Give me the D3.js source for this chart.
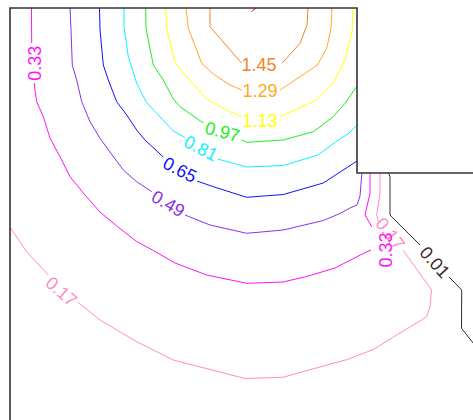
<!DOCTYPE html>
<html lang="en">
<head>
<meta charset="UTF-8">
<title>L-shaped domain contours</title>
<script src="https://d3js.org/d3.v7.min.js"></script>
<style>
  body { margin: 0; background: #fff; }
  svg { display: block; }
  .lbl { font: 18px "Liberation Sans", Arial, sans-serif; }
</style>
</head>
<body>
<script>
// contour levels and their colours
const levels = [0.01, 0.17, 0.33, 0.49, 0.65, 0.81, 0.97, 1.13, 1.29, 1.45, 1.61];
const colors = ["#3a2828", "#ff8cc8", "#ff10f8", "#8a30f0", "#1010ff", "#10f0ff",
                "#20ee20", "#ffff00", "#ffaa20", "#f5841f", "#ff1010"];

// domain outline (x to the right, y downward, same units as the contours)
const boundary = [[0, 4.12], [0, 0], [3.47, 0], [3.47, 1.65], [4.63, 1.65]];

// contour polylines, each split into pieces where a label sits
const c001 = [
  [[3.785, 1.65], [3.80, 1.687], [3.80, 2.07], [4.10, 2.37]],
  [[4.39, 2.69], [4.517, 2.82], [4.515, 3.203], [4.635, 3.355]]
];
const c017 = [
  [[0.005, 2.20], [0.167, 2.437], [0.383, 2.67]],
  [[0.683, 2.945], [0.90, 3.12], [1.267, 3.337], [1.633, 3.52], [2.00, 3.615], [2.35, 3.705],
   [2.733, 3.692], [3.133, 3.58], [3.367, 3.517], [3.633, 3.415], [3.867, 3.27], [3.967, 3.21],
   [4.167, 3.087], [4.20, 2.987], [4.215, 2.82], [3.933, 2.425]],
  [[3.683, 2.137], [3.667, 2.07], [3.70, 1.853], [3.70, 1.67], [3.71, 1.65]]
];
const c033 = [
  [[0.215, 0], [0.217, 0.35]],
  [[0.243, 0.75], [0.25, 0.82], [0.267, 0.937], [0.333, 1.087], [0.40, 1.30], [0.517, 1.52],
   [0.60, 1.687], [0.75, 1.87], [0.90, 2.04], [1.067, 2.18], [1.267, 2.335], [1.433, 2.425],
   [1.65, 2.55], [1.967, 2.67], [2.367, 2.753], [2.73, 2.74], [2.967, 2.685], [3.25, 2.60],
   [3.533, 2.455], [3.61, 2.42]],
  [[3.617, 2.187], [3.55, 2.07], [3.60, 1.853], [3.60, 1.665], [3.61, 1.65]]
];
const c049 = [
  [[0.60, 0], [0.61, 0.22], [0.623, 0.57], [0.667, 0.72], [0.717, 0.937], [0.80, 1.137],
   [0.90, 1.303], [1.00, 1.44], [1.133, 1.62], [1.267, 1.737], [1.417, 1.837]],
  [[1.75, 2.07], [2.00, 2.17], [2.367, 2.253], [2.733, 2.22], [3.133, 2.125], [3.30, 2.055],
   [3.40, 2.00], [3.47, 1.97], [3.50, 1.88], [3.517, 1.67], [3.52, 1.65]]
];
const c065 = [
  [[0.895, 0], [0.90, 0.22], [0.933, 0.57], [0.983, 0.72], [1.067, 0.937], [1.167, 1.07],
   [1.267, 1.22], [1.35, 1.32], [1.533, 1.49]],
  [[1.87, 1.73], [2.033, 1.787], [2.367, 1.893], [2.733, 1.865], [3.133, 1.75], [3.47, 1.53]]
];
const c081 = [
  [[1.14, 0], [1.14, 0.187], [1.183, 0.487], [1.267, 0.753], [1.36, 0.937], [1.467, 1.053],
   [1.633, 1.23], [1.75, 1.295]],
  [[2.075, 1.51], [2.367, 1.59], [2.733, 1.575], [3.08, 1.47], [3.27, 1.33], [3.38, 1.26], [3.47, 1.17]]
];
const c097 = [
  [[1.357, 0], [1.36, 0.203], [1.433, 0.57], [1.533, 0.72], [1.633, 0.91], [1.70, 0.987], [1.933, 1.15]],
  [[2.317, 1.32], [2.367, 1.343], [2.733, 1.32], [3.033, 1.237], [3.233, 1.087], [3.35, 0.953], [3.47, 0.78]]
];
const c113 = [
  [[1.557, 0], [1.567, 0.203], [1.65, 0.545], [1.767, 0.687], [1.975, 0.92], [2.20, 1.037], [2.317, 1.087]],
  [[2.70, 1.087], [3.067, 0.92], [3.233, 0.753], [3.35, 0.52], [3.42, 0.237], [3.43, 0]]
];
const c129 = [
  [[1.76, 0], [1.783, 0.203], [1.917, 0.553], [2.033, 0.66], [2.20, 0.77], [2.317, 0.82]],
  [[2.70, 0.82], [3.075, 0.57], [3.167, 0.403], [3.21, 0.203], [3.22, 0]]
];
const c145 = [
  [[2.00, 0], [2.00, 0.187], [2.317, 0.553]],
  [[2.72, 0.553], [2.90, 0.353], [2.97, 0.17], [2.98, 0]]
];
const c161 = [
  [[2.415, 0.035], [2.46, 0.003]]
];

// inline labels: level, anchor (x, y) and text angle
const labelLevels = [0.01, 0.17, 0.17, 0.33, 0.33, 0.49, 0.65, 0.81, 0.97, 1.13, 1.29, 1.45];
const labelX      = [4.25, 0.517, 3.805, 0.245, 3.76, 1.583, 1.70, 1.91, 2.125, 2.50, 2.50, 2.49];
const labelY      = [2.54, 2.833, 2.255, 0.553, 2.42, 1.955, 1.615, 1.40, 1.235, 1.13, 0.83, 0.57];
const labelAngle  = [48, 41, 52, -90, -90, 30, 27, 27, 15, 0, 0, 0];

const contours = [c001, c017, c033, c049, c065, c081, c097, c113, c129, c145, c161];

const W = 473, H = 420;
const x = d3.scaleLinear().domain([0, 4.63]).range([10, 473]);
const y = d3.scaleLinear().domain([0, 4.12]).range([8, 420]);
const color = d3.scaleOrdinal().domain(levels).range(colors);

const svg = d3.select("body").append("svg")
    .attr("width", W)
    .attr("height", H);

const line = d3.line().x(d => x(d[0])).y(d => y(d[1]));

// contour lines
const pieces = [];
contours.forEach((segs, i) => segs.forEach(s => pieces.push({level: levels[i], pts: s})));

svg.append("g")
  .selectAll("path")
  .data(pieces)
  .join("path")
    .attr("d", d => line(d.pts))
    .attr("fill", "none")
    .attr("stroke", d => color(d.level))
    .attr("stroke-width", 1)
    .attr("stroke-linejoin", "round");

// labels
const labels = labelLevels.map((v, i) => ({level: v, x: labelX[i], y: labelY[i], a: labelAngle[i]}));

svg.append("g")
  .selectAll("text")
  .data(labels)
  .join("text")
    .attr("class", "lbl")
    .attr("transform", d => `translate(${x(d.x)},${y(d.y)}) rotate(${d.a})`)
    .attr("text-anchor", "middle")
    .attr("dy", "0.36em")
    .attr("fill", d => color(d.level))
    .text(d => d3.format(".2f")(d.level));

// domain outline on top
svg.append("path")
    .attr("d", line(boundary))
    .attr("fill", "none")
    .attr("stroke", "#333")
    .attr("stroke-width", 1.6);
</script>
</body>
</html>
